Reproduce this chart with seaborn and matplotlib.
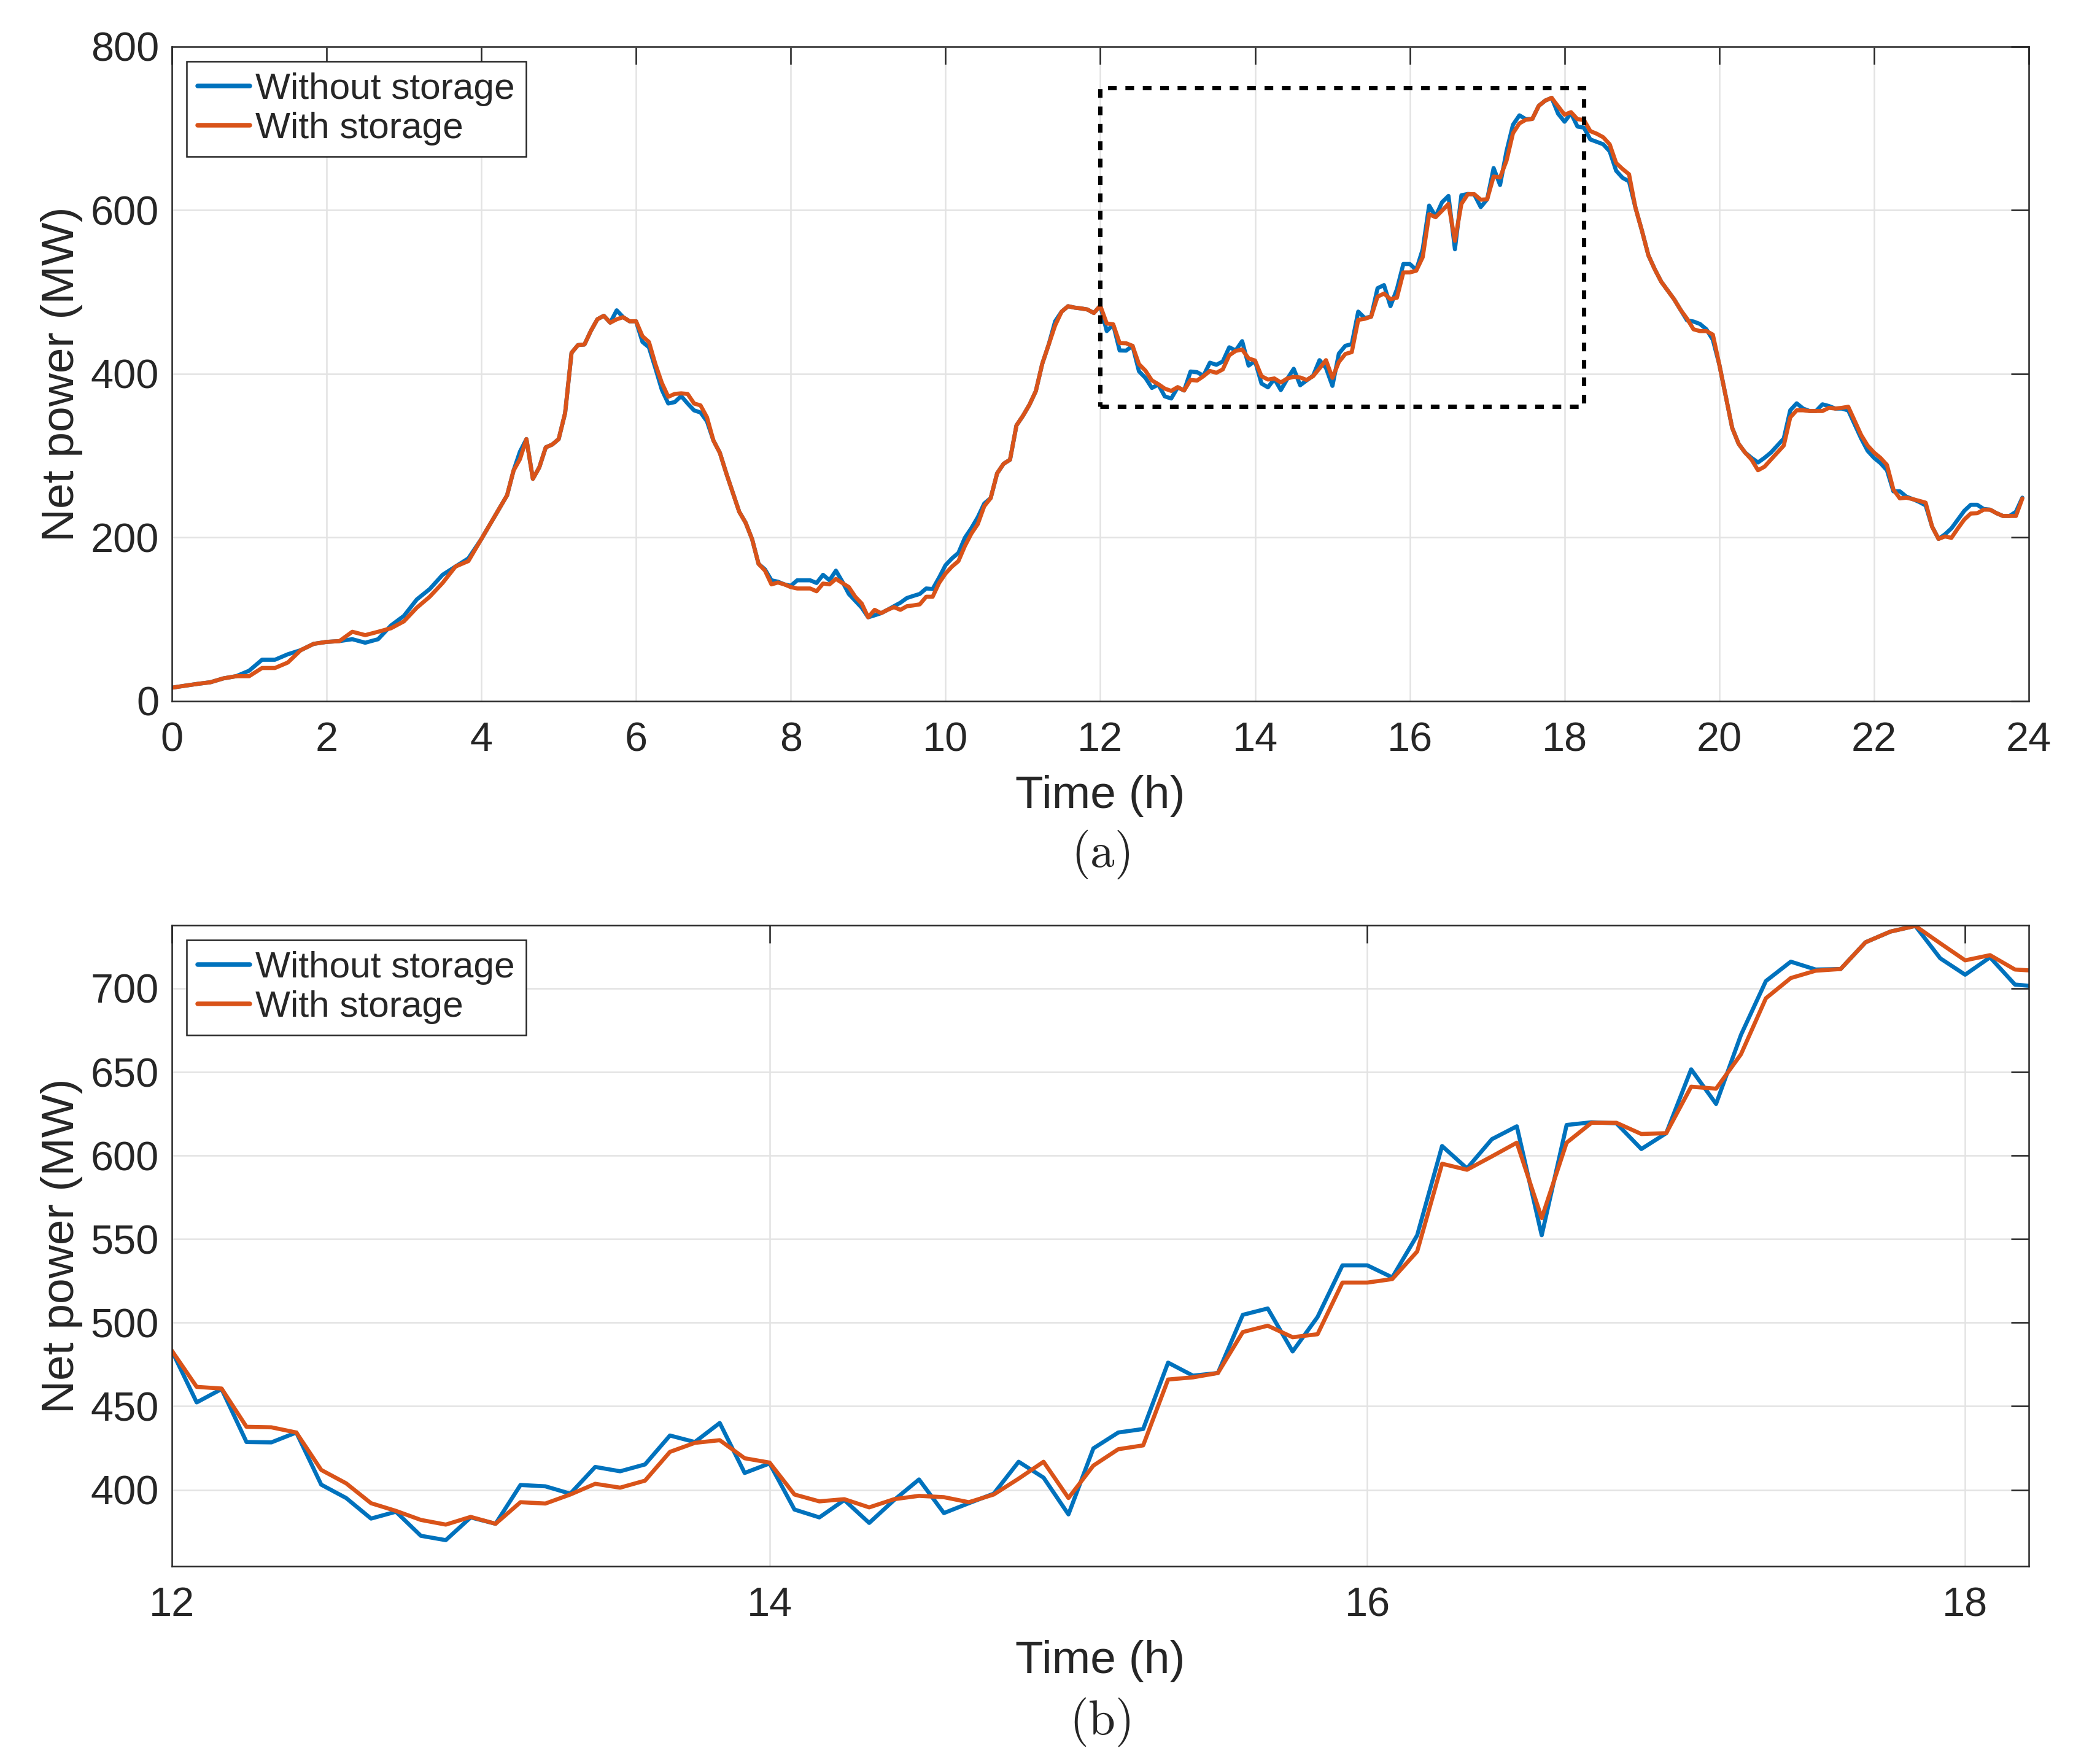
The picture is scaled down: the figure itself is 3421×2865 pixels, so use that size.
import numpy as np
import pandas as pd
import seaborn as sns
import matplotlib.pyplot as plt
from matplotlib.patches import Rectangle

# ---- data (MW) ----
# 00:00 - 06:00, irregular steps (minutes of day)
early_min = [0, 10, 20, 30, 40, 50, 60, 70, 80, 90, 100, 110, 120, 130, 140, 150, 160, 170,
             180, 190, 200, 210, 220, 230, 240, 250, 260, 265, 270, 275, 280, 285, 290, 295,
             300, 305, 310, 315, 320, 325, 330, 335, 340, 345, 350, 355, 360]
early_without = [16.4, 18.8, 21.1, 23.1, 27.8, 30.5, 37.2, 50.6, 50.6, 57.3, 62.3, 70, 72.4, 73.4,
                 75.7, 71.4, 75.7, 92.5, 104.2, 124.3, 137.0, 154.4, 164.5, 174.5, 198, 224.8,
                 251.6, 281.7, 305, 320.3, 271.7, 285.8, 310.2, 313.6, 320.3, 352.1, 425.8, 435.2,
                 435.9, 452.6, 466.7, 471.0, 462.6, 477.7, 469.3, 464.3, 464.3]
early_with = [16.4, 18.8, 21.1, 23.1, 27.8, 30.5, 30.5, 40.5, 40.5, 47.2, 62.3, 70, 72.4, 73.4,
              84.8, 80.7, 84.8, 89.1, 97.5, 114.2, 127.6, 144.4, 164.5, 171.2, 198, 224.8,
              251.6, 281.7, 295.8, 320.3, 271.7, 285.8, 310.2, 313.6, 320.3, 352.1, 425.8, 435.2,
              435.9, 452.6, 466.7, 471.0, 462.6, 466.7, 469.3, 464.3, 464.3]

# 06:05 - 11:55, 5 min steps
morning_without = [439, 432.5, 407, 380.6, 363.8, 365.5, 372.9, 363.8, 355.4, 352.8, 342,
                   318.6, 303.5, 278.4, 255, 231.5, 218, 198, 167.8, 161, 147.7, 146, 142.7,
                   141, 147.7, 147.7, 147.7, 144.4, 154.4, 147.7, 159.5, 146, 131, 122.6, 114.2,
                   102.5, 104.9, 107.5, 111.6, 116, 120.3, 126, 128.6, 131, 137.7, 137, 151,
                   166.2, 174.5, 181.2, 199.7, 211.4, 224.8, 241.5, 248.2, 278.4, 290.1, 295.1, 337,
                   348.7, 362.1, 378.9, 412.4, 435.9, 464.3, 476, 482.7, 481, 480, 478.7, 474.4]
morning_with = [446, 439, 412, 389, 372, 375.5, 376.2, 375.5, 363.8, 361.5, 347,
                318.6, 303.5, 278.4, 255, 231.5, 218, 198, 167.8, 159.5, 142.7, 145, 142.7,
                139.4, 137.7, 137.7, 137.7, 134.3, 143.7, 142.7, 149.4, 144.4, 139.4, 127.6, 119.3,
                102.5, 111.6, 107.5, 111.6, 114.9, 111.6, 116, 117, 118.3, 127.6, 127.6, 144.4,
                156, 164.5, 171.2, 189.6, 204.7, 216.4, 238.2, 248.2, 278.4, 290.1, 295.1, 337,
                348.7, 362.1, 378.9, 412.4, 435.9, 459.3, 476, 482.7, 481, 480, 478.7, 474.4]

# 12:00 - 18:15, 5 min steps (zoomed window)
zoom_without = [483.3, 452.3, 460.3, 428.6, 428.4, 434.3, 403.1, 395.1, 382.8, 386.9,
                372.5, 369.9, 383.5, 379.7, 402.9, 402.1, 397.7, 413.7, 411.1, 415.2,
                432.5, 428.6, 440.0, 410.1, 415.8, 388.2, 383.5, 393.9, 380.2, 393.9,
                406.2, 386.1, 392.0, 397.7, 416.8, 407.3, 385.3, 424.8, 434.3, 436.4,
                476.1, 468.3, 469.9, 504.7, 508.5, 482.8, 503.4, 534.3, 534.3, 527.1,
                552.3, 605.7, 592.3, 609.8, 617.5, 552.3, 618.3, 619.9, 619.3, 603.9,
                613.4, 651.6, 630.9, 672.2, 704.4, 716.0, 711.3, 711.6, 727.6, 734.0,
                737.4, 718.0, 708.2, 718.6, 702.3, 701.0]
zoom_with = [483.3, 461.6, 460.6, 437.7, 437.4, 434.3, 411.9, 403.9, 392.0, 387.4,
             382.0, 379.2, 383.8, 379.7, 392.6, 391.8, 397.2, 403.6, 401.3, 405.5,
             422.7, 428.1, 429.7, 418.9, 416.3, 397.2, 393.1, 394.4, 389.5, 394.4,
             396.4, 395.6, 392.6, 397.2, 406.7, 416.8, 395.1, 414.5, 424.3, 426.6,
             466.0, 467.3, 469.9, 494.4, 498.2, 491.3, 493.1, 524.0, 524.0, 526.1,
             542.6, 595.1, 591.5, 599.5, 607.7, 562.6, 607.7, 619.6, 619.6, 612.9,
             613.4, 641.2, 640.0, 660.6, 694.1, 706.2, 710.6, 711.6, 727.6, 734.0,
             737.4, 727.0, 716.8, 719.9, 711.3, 710.4]

# 18:20 - 23:55, 5 min steps
evening_without = [686.5, 683.6, 680.6, 672, 648.3, 639.6, 635.3, 603, 575, 545, 527.7, 512.6,
                   501.9, 491.1, 478.2, 465.3, 464, 461, 454.5, 441.6, 411.4, 372.7, 333.9,
                   314.5, 303.8, 297.3, 291.7, 297.3, 303.8, 312.4, 321, 355.5, 364, 357.6,
                   354.6, 354.6, 362.8, 360.7, 357.6, 357.6, 355.3, 338.2, 321, 306, 297.3,
                   290.9, 282.2, 256.4, 256.4, 250, 246.9, 243.5, 239.2, 213.3, 198.3, 203.9,
                   211.2, 222, 232.7, 240, 240, 234.9, 234, 229.7, 226.3, 226.3, 231.4, 248.7]
evening_with = [696.7, 693.5, 689.2, 680.6, 657.7, 650.4, 644, 603, 575, 545, 527.7, 512.6,
                501.9, 491.1, 478.2, 467.4, 454.5, 452.3, 452.3, 448, 411.4, 372.7, 333.9,
                314.5, 303.8, 295.2, 282.2, 286.5, 295.2, 303.8, 312.4, 346.8, 355.5, 355.5,
                354.6, 354.6, 354.6, 358.5, 357.6, 358.5, 359.8, 342.5, 325.3, 312.4, 303.8,
                297.3, 288.7, 258.6, 247.8, 248.7, 246.9, 244.8, 242.6, 213.3, 198.3, 201.3,
                199.6, 211.2, 222, 229.3, 229.7, 234, 234, 229.7, 226.3, 226.3, 226.3, 247.8]

series_names = ['Without storage', 'With storage']
colors = ['#0072BD', '#D95319']
zoom_box = (12, 18.25, 360, 750)  # dashed window drawn on panel (a)

# time axes (hours)
t_early = np.array(early_min) / 60
t_morning = np.arange(365, 720, 5) / 60
t_zoom = np.arange(720, 1100, 5) / 60
t_evening = np.arange(1100, 1440, 5) / 60

day_t = np.concatenate([t_early, t_morning, t_zoom, t_evening])
day_without = np.concatenate([early_without, morning_without, zoom_without, evening_without])
day_with = np.concatenate([early_with, morning_with, zoom_with, evening_with])

day = pd.DataFrame({'t': np.concatenate([day_t, day_t]),
                    'power': np.concatenate([day_without, day_with]),
                    'series': [series_names[0]] * len(day_t) + [series_names[1]] * len(day_t)})
win = pd.DataFrame({'t': np.concatenate([t_zoom, t_zoom]),
                    'power': np.concatenate([zoom_without, zoom_with]),
                    'series': [series_names[0]] * len(t_zoom) + [series_names[1]] * len(t_zoom)})

# ---- style ----
sns.set_style('white')
plt.rcParams['font.family'] = ['Liberation Sans', 'DejaVu Sans']
plt.rcParams['mathtext.fontset'] = 'cm'
dark = '#262626'

fig = plt.figure(figsize=(3421 / 300, 2865 / 300), dpi=300)
ax1 = fig.add_axes([0.0818, 0.6014, 0.8843, 0.3721])
ax2 = fig.add_axes([0.0818, 0.1096, 0.8843, 0.3644])

pal = dict(zip(series_names, colors))
sns.lineplot(data=day, x='t', y='power', hue='series', palette=pal, estimator=None,
             sort=False, lw=1.6, ax=ax1)
sns.lineplot(data=win, x='t', y='power', hue='series', palette=pal, estimator=None,
             sort=False, lw=1.6, ax=ax2)

x0, x1, y0, y1 = zoom_box
ax1.add_patch(Rectangle((x0, y0), x1 - x0, y1 - y0, fill=False, edgecolor='k',
                        lw=1.7, ls=(0, (2, 2)), zorder=5))

ax1.set_xlim(0, 24)
ax1.set_ylim(0, 800)
ax1.set_xticks(np.arange(0, 25, 2))
ax1.set_yticks(np.arange(0, 801, 200))

ax2.set_xlim(12, 18.213)
ax2.set_ylim(354.3, 737.8)
ax2.set_xticks([12, 14, 16, 18])
ax2.set_yticks(np.arange(400, 701, 50))

for ax in (ax1, ax2):
    ax.set_axisbelow(True)
    ax.grid(True, color='#e3e3e3', lw=0.6)
    for s in ax.spines.values():
        s.set_visible(True)
        s.set_color(dark)
        s.set_linewidth(0.6)
    ax.tick_params(direction='in', length=7, width=0.6, top=True, right=True,
                   color=dark, labelcolor=dark, labelsize=16)
    ax.tick_params(axis='x', pad=8)
    ax.tick_params(axis='y', pad=5)
    ax.set_xlabel('Time (h)', fontsize=18, color=dark, labelpad=6)
    ax.set_ylabel('Net power (MW)', fontsize=18, color=dark, labelpad=3)
    leg = ax.legend(loc='upper left', fontsize=14.5, frameon=True, fancybox=False,
                    framealpha=1, edgecolor=dark, handlelength=1.4, handletextpad=0.15,
                    labelspacing=0.15, borderpad=0.3, borderaxespad=0.4)
    leg.get_frame().set_linewidth(0.6)
    for line in leg.get_lines():
        line.set_linewidth(1.8)

fig.text(0.5239, 0.5141, r'$\mathrm{(a)}$', ha='center', va='center', fontsize=19)
fig.text(0.5239, 0.0209, r'$\mathrm{(b)}$', ha='center', va='center', fontsize=19)

fig.savefig('out.png', dpi=300, facecolor='white')
